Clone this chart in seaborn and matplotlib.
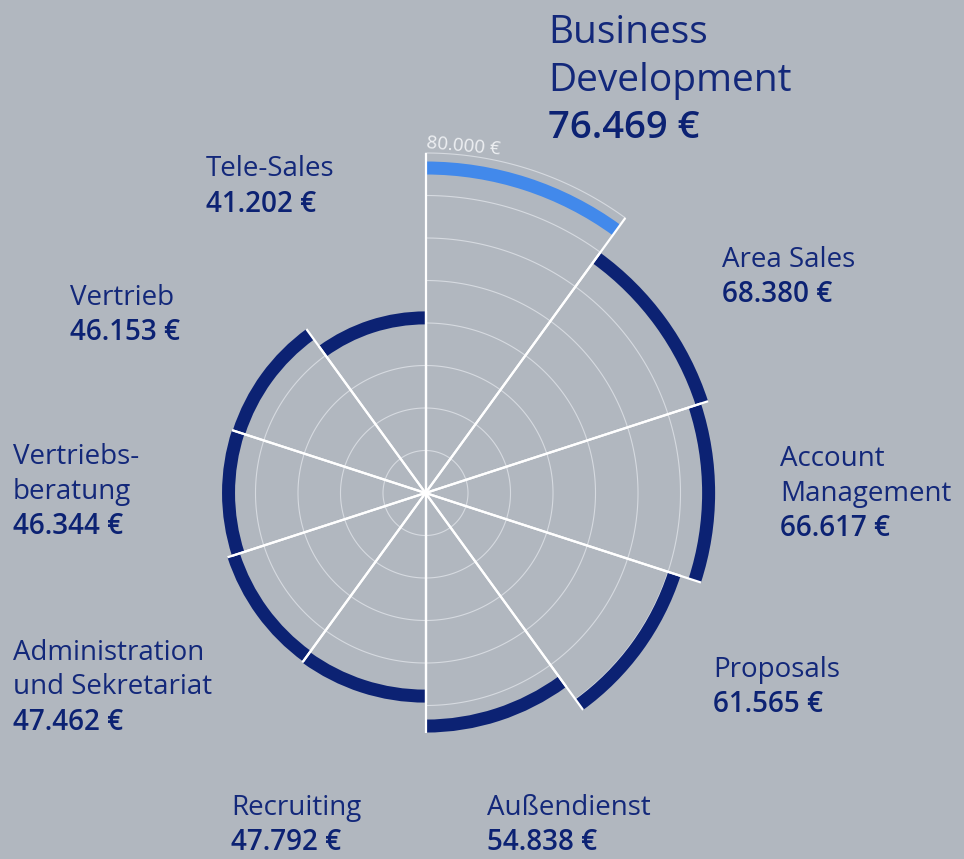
import numpy as np
import matplotlib
matplotlib.use("Agg")
import matplotlib.pyplot as plt
import seaborn as sns

# Salary by department, clockwise from 12 o'clock
departments = ["Business\nDevelopment", "Area Sales", "Account\nManagement", "Proposals",
               "Außendienst", "Recruiting", "Administration\nund Sekretariat",
               "Vertriebs-\nberatung", "Vertrieb", "Tele-Sales"]
salaries = [76469, 68380, 66617, 61565, 54838, 47792, 47462, 46344, 46153, 41202]
highlighted = "Business\nDevelopment"
scale_max = 80000
grid_step = 10000

# Label anchors (left x, first baseline y) in figure pixels
label_pos = [(548, 43), (722, 267), (780, 466), (713, 677), (487, 815),
             (231, 815), (13, 660), (13, 464), (70, 305), (206, 176)]

W, H = 964, 859
BG = "#b1b7bf"
NAVY = "#0c2273"
TEXT_NAVY = "#13287a"
HIGHLIGHT = "#4289eb"
GRID = "#d6dae0"

sns.set_theme(style="white", rc={"figure.facecolor": BG, "axes.facecolor": BG,
                                 "savefig.facecolor": BG})
plt.rcParams["font.family"] = ["Open Sans", "DejaVu Sans"]

fig = plt.figure(figsize=(W / 100, H / 100), dpi=100)
cx, cy, R = 425.5, 493, 340
ax = fig.add_axes([(cx - R) / W, (H - cy - R) / H, 2 * R / W, 2 * R / H],
                  projection="polar")
ax.set_theta_zero_location("N")
ax.set_theta_direction(-1)
ax.set_ylim(0, scale_max)
ax.set_axis_off()
ax.patch.set_alpha(0)

n = len(departments)
span = 2 * np.pi / n
stroke = 13 / R * scale_max  # arc thickness in value units

for i, (name, val) in enumerate(zip(departments, salaries)):
    t0, t1 = i * span, (i + 1) * span
    is_hi = name == highlighted
    reach = scale_max if is_hi else val
    # grid rings clipped to the wedge
    tt = np.linspace(t0, t1, 60)
    for g in np.arange(grid_step, reach + 1, grid_step):
        if g < reach or is_hi:
            ax.plot(tt, np.full_like(tt, g), color=GRID, lw=0.8, zorder=1,
                    clip_on=False)
    # value arc
    ax.bar((t0 + t1) / 2, stroke, width=span, bottom=val - stroke / 2,
           color=HIGHLIGHT if is_hi else NAVY, linewidth=0, zorder=2,
           clip_on=False)

# wedge edges drawn on top
for i, (name, val) in enumerate(zip(departments, salaries)):
    t0, t1 = i * span, (i + 1) * span
    outer = scale_max if name == highlighted else val + stroke / 2
    for t in (t0, t1):
        ax.plot([t, t], [0, outer], color="white", lw=1.6, zorder=3,
                solid_capstyle="butt", clip_on=False)


def fxy(x, y):
    return x / W, 1 - y / H


def euro(v):
    return f"{v:,}".replace(",", ".") + " €"


for (name, val), (x, y) in zip(zip(departments, salaries), label_pos):
    big = name == highlighted
    name_size = 28 if big else 20
    num_size = 27.5 if big else 20
    step = 47.5 if big else 34.5
    num_step = 48 if big else 35.5
    lines = name.split("\n")
    for k, line in enumerate(lines):
        fig.text(*fxy(x, y + k * step), line, fontsize=name_size,
                 color=TEXT_NAVY, ha="left", va="baseline")
    fig.text(*fxy(x, y + (len(lines) - 1) * step + num_step), euro(val),
             fontsize=num_size, fontweight="semibold", color=NAVY,
             ha="left", va="baseline")

# scale label at the outer ring
fig.text(*fxy(426, 148), euro(scale_max), fontsize=13.5, color="#eef0f3",
         rotation=-5, rotation_mode="anchor", ha="left", va="baseline")

fig.savefig("out.png", dpi=100, facecolor=BG)
